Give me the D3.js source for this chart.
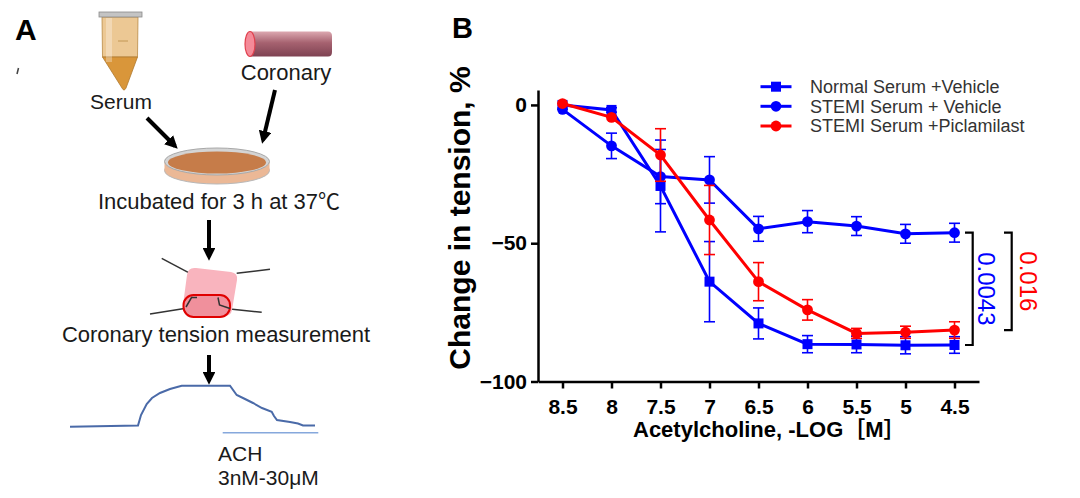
<!DOCTYPE html>
<html>
<head>
<meta charset="utf-8">
<script src="https://cdnjs.cloudflare.com/ajax/libs/d3/7.8.5/d3.min.js"></script>
<style>
  body { margin: 0; background: #fff; }
  text { font-family: "Liberation Sans", Arial, "Noto Sans CJK SC", sans-serif; }
</style>
</head>
<body>
<svg id="fig" width="1080" height="498"></svg>
<script>
// Acetylcholine doses, -log[M]
var doses = [8.5, 8, 7.5, 7, 6.5, 6, 5.5, 5, 4.5];

// change in tension (%), mean and error per series
var normalMean = [0, -1.8, -29.3, -63.9, -79.0, -86.5, -86.6, -86.9, -86.8];
var normalErr  = [0, 0.8, 16.6, 14.5, 5.6, 3.1, 3.0, 3.1, 3.0];
var stemiMean  = [-1.6, -14.8, -25.9, -27.1, -44.8, -42.2, -43.8, -46.6, -46.2];
var stemiErr   = [0, 4.6, 9.8, 8.4, 4.5, 4.0, 3.4, 3.4, 3.4];
var picMean    = [0.5, -4.5, -18.1, -41.6, -63.9, -74.1, -82.6, -82.2, -81.4];
var picErr     = [0, 0, 9.5, 12.5, 6.9, 3.7, 1.8, 2.2, 3.0];

var seriesNames = ["Normal Serum +Vehicle", "STEMI Serum + Vehicle", "STEMI Serum +Piclamilast"];
var seriesColors = ["#0000ff", "#0000ff", "#ff0000"];
var seriesShapes = ["square", "circle", "circle"];

var yTicks = [0, -50, -100];
var pValues = ["0.0043", "0.016"];

var svg = d3.select("#fig");

// ---------------- Panel A : schematic ----------------
var a = svg.append("g");
var ink = "#1a1a1a";

a.append("text").attr("x", 15).attr("y", 40).attr("font-size", 30)
  .attr("font-weight", "bold").text("A");
a.append("line").attr("x1", 17).attr("y1", 74).attr("x2", 18.5).attr("y2", 68)
  .attr("stroke", "#444").attr("stroke-width", 1.5);

// arrow marker
svg.append("defs").append("marker")
  .attr("id", "arrow").attr("viewBox", "0 0 10 10")
  .attr("refX", 7).attr("refY", 5)
  .attr("markerWidth", 3.2).attr("markerHeight", 3.2)
  .attr("orient", "auto")
  .append("path").attr("d", "M0,0 L10,5 L0,10 Z").attr("fill", "#000");

// tube
var grad = svg.select("defs").append("linearGradient").attr("id", "cyl")
  .attr("x1", 0).attr("y1", 0).attr("x2", 0).attr("y2", 1);
grad.append("stop").attr("offset", "0%").attr("stop-color", "#dca8b0");
grad.append("stop").attr("offset", "45%").attr("stop-color", "#a66270");
grad.append("stop").attr("offset", "100%").attr("stop-color", "#7e4252");

a.append("path").attr("d", "M102,17 L138,17 L137.5,57 L102.5,57 Z")
  .attr("fill", "#ecc894").attr("stroke", "#b98a45").attr("stroke-width", 0.8);
a.append("path").attr("d", "M102.5,57 L137.5,57 L126,88 Q124,92 122,88 Z")
  .attr("fill", "#d9963a").attr("stroke", "#b07a30").attr("stroke-width", 0.8);
a.append("rect").attr("x", 106).attr("y", 18).attr("width", 6).attr("height", 44)
  .attr("fill", "#fff").attr("opacity", 0.3);
a.append("line").attr("x1", 118).attr("y1", 41).attr("x2", 128).attr("y2", 41)
  .attr("stroke", "#b98a45").attr("stroke-width", 0.8);
a.append("rect").attr("x", 99).attr("y", 12).attr("width", 43).attr("height", 5)
  .attr("fill", "#c4c4c4").attr("stroke", "#8a8a8a").attr("stroke-width", 0.8);
a.append("text").attr("x", 121).attr("y", 109).attr("text-anchor", "middle")
  .attr("font-size", 21).attr("fill", ink).text("Serum");

// coronary vessel
a.append("path").attr("d", "M250,31.5 L328,31.5 Q332,31.5 332,36 L332,52 Q332,56.5 328,56.5 L250,56.5 Z")
  .attr("fill", "url(#cyl)");
a.append("ellipse").attr("cx", 250).attr("cy", 44).attr("rx", 5).attr("ry", 12.5)
  .attr("fill", "#f48a98").attr("stroke", "#e0404e").attr("stroke-width", 1.2);
a.append("text").attr("x", 286).attr("y", 80).attr("text-anchor", "middle")
  .attr("font-size", 22).attr("fill", ink).text("Coronary");

// arrows into the dish
a.append("line").attr("x1", 147).attr("y1", 118).attr("x2", 175).attr("y2", 146)
  .attr("stroke", "#000").attr("stroke-width", 4).attr("marker-end", "url(#arrow)");
a.append("line").attr("x1", 275).attr("y1", 90).attr("x2", 263).attr("y2", 140)
  .attr("stroke", "#000").attr("stroke-width", 4).attr("marker-end", "url(#arrow)");

// petri dish
a.append("ellipse").attr("cx", 217).attr("cy", 170.5).attr("rx", 52.5).attr("ry", 13.5)
  .attr("fill", "#ebb896").attr("stroke", "#b8b8b8").attr("stroke-width", 1);
a.append("rect").attr("x", 164.5).attr("y", 161.5).attr("width", 105).attr("height", 9)
  .attr("fill", "#ebb896");
a.append("ellipse").attr("cx", 217).attr("cy", 161.5).attr("rx", 52.5).attr("ry", 13.5)
  .attr("fill", "#d4d4d4").attr("stroke", "#a8a8a8").attr("stroke-width", 1);
a.append("ellipse").attr("cx", 217).attr("cy", 162.5).attr("rx", 49).attr("ry", 11)
  .attr("fill", "#c67c49");
a.append("text").attr("x", 219).attr("y", 209).attr("text-anchor", "middle")
  .attr("font-size", 22).attr("fill", ink).text("Incubated for 3 h at 37\u2103");

a.append("line").attr("x1", 209).attr("y1", 220).attr("x2", 209).attr("y2", 257)
  .attr("stroke", "#000").attr("stroke-width", 4).attr("marker-end", "url(#arrow)");

// tension chamber
var wire = [[161.7, 258.3, 190, 273.3], [236.7, 273.3, 270, 269.3],
            [150, 314, 186, 308.3], [230, 309, 261.7, 312.3]];
a.selectAll(".wire").data(wire).enter().append("line")
  .attr("x1", function (d) { return d[0]; }).attr("y1", function (d) { return d[1]; })
  .attr("x2", function (d) { return d[2]; }).attr("y2", function (d) { return d[3]; })
  .attr("stroke", "#333").attr("stroke-width", 1.5);
a.append("path")
  .attr("d", "M196,268 L231,272 Q238,273 237,280 L232,310 Q231,316 224,316 L189,313 Q182,312 183,305 L187,275 Q188,267 196,268 Z")
  .attr("fill", "#f9b4be");
a.append("rect").attr("x", 183.5).attr("y", 295).attr("width", 46.5).attr("height", 22)
  .attr("rx", 10).attr("fill", "#f0909c").attr("stroke", "#e00000").attr("stroke-width", 2);
a.append("path").attr("d", "M186,307 L191.5,297.5 L197,297.5 M218,297.5 L219.5,305 L230,308.5")
  .attr("fill", "none").attr("stroke", "#333").attr("stroke-width", 1.5);
a.append("text").attr("x", 216).attr("y", 341.5).attr("text-anchor", "middle")
  .attr("font-size", 22).attr("fill", ink).text("Coronary tension measurement");

a.append("line").attr("x1", 209).attr("y1", 355).attr("x2", 209).attr("y2", 381)
  .attr("stroke", "#000").attr("stroke-width", 4).attr("marker-end", "url(#arrow)");

// tension trace
var trace = [[70, 426.7], [138, 425.5], [141, 415], [146.7, 404], [152, 398], [160, 393],
             [170, 389], [181.7, 385.7], [230, 385.7], [236.7, 395], [245, 399],
             [253, 403], [262, 408], [271.7, 411.7], [274, 416], [277, 420],
             [290, 422], [298, 423.5], [303, 425.5], [315, 425.5]];
a.append("path").attr("d", d3.line()(trace))
  .attr("fill", "none").attr("stroke", "#4a6aa8").attr("stroke-width", 2);
a.append("line").attr("x1", 222.7).attr("y1", 432.7).attr("x2", 318.3).attr("y2", 432.7)
  .attr("stroke", "#86a8dc").attr("stroke-width", 1.5);
a.append("text").attr("x", 218).attr("y", 460.5).attr("font-size", 21).attr("fill", ink).text("ACH");
a.append("text").attr("x", 218).attr("y", 485).attr("font-size", 21).attr("fill", ink).text("3nM-30\u03bcM");

// ---------------- Panel B : dose-response chart ----------------
var b = svg.append("g");
b.append("text").attr("x", 452).attr("y", 38).attr("font-size", 29)
  .attr("font-weight", "bold").text("B");

var x = d3.scaleLinear().domain([8.75, 4.25]).range([538, 979]);
var y = d3.scaleLinear().domain([-100, 5.4]).range([381.5, 90]);

var xAxis = b.append("g").attr("transform", "translate(0," + y(-100) + ")")
  .call(d3.axisBottom(x).tickValues(doses).tickFormat(d3.format("")).tickSize(7).tickSizeOuter(0).tickPadding(11));
var yAxis = b.append("g").attr("transform", "translate(" + x(8.75) + ",0)")
  .call(d3.axisLeft(y).tickValues(yTicks).tickSize(7).tickSizeOuter(0).tickPadding(4));

[xAxis, yAxis].forEach(function (g) {
  g.select(".domain").attr("stroke", "#000").attr("stroke-width", 2.5);
  g.selectAll(".tick line").attr("stroke", "#000").attr("stroke-width", 2.5);
  g.selectAll(".tick text").attr("fill", "#000").attr("font-size", 21)
    .attr("font-weight", "bold").attr("font-family", "'Liberation Sans', Arial, sans-serif");
});

b.append("text").attr("x", 633).attr("y", 437).attr("font-size", 22)
  .attr("font-weight", "bold").text("Acetylcholine, -LOG\uff3bM\uff3d");
b.append("text").attr("transform", "translate(470,218) rotate(-90)")
  .attr("text-anchor", "middle").attr("font-size", 30).attr("font-weight", "bold")
  .text("Change in tension, %");

var means = [normalMean, stemiMean, picMean];
var errs = [normalErr, stemiErr, picErr];

var line = d3.line()
  .x(function (d) { return x(d.dose); })
  .y(function (d) { return y(d.v); });

function drawMarker(g, shape, color, cx, cy) {
  if (shape === "square") {
    g.append("rect").attr("x", cx - 5).attr("y", cy - 5).attr("width", 10).attr("height", 10)
      .attr("fill", color);
  } else {
    g.append("circle").attr("cx", cx).attr("cy", cy).attr("r", 5.4).attr("fill", color);
  }
}

means.forEach(function (m, s) {
  var color = seriesColors[s];
  var pts = doses.map(function (d, i) { return { dose: d, v: m[i], e: errs[s][i] }; });
  var g = b.append("g");

  // error bars
  pts.filter(function (p) { return p.e > 0; }).forEach(function (p) {
    var cx = x(p.dose), top = y(p.v + p.e), bot = y(p.v - p.e);
    g.append("line").attr("x1", cx).attr("x2", cx).attr("y1", top).attr("y2", bot)
      .attr("stroke", color).attr("stroke-width", 1.6);
    [top, bot].forEach(function (yy) {
      g.append("line").attr("x1", cx - 5.5).attr("x2", cx + 5.5).attr("y1", yy).attr("y2", yy)
        .attr("stroke", color).attr("stroke-width", 1.6);
    });
  });

  g.append("path").attr("d", line(pts)).attr("fill", "none")
    .attr("stroke", color).attr("stroke-width", 3);

  pts.forEach(function (p) { drawMarker(g, seriesShapes[s], color, x(p.dose), y(p.v)); });
});

// legend
var legendY = [86.7, 106.3, 126];
seriesNames.forEach(function (name, s) {
  var ly = legendY[s];
  b.append("line").attr("x1", 760.5).attr("x2", 791.5).attr("y1", ly).attr("y2", ly)
    .attr("stroke", seriesColors[s]).attr("stroke-width", 3);
  drawMarker(b, seriesShapes[s], seriesColors[s], 776, ly);
  b.append("text").attr("x", 810).attr("y", ly).attr("dy", "0.36em")
    .attr("font-size", 18).attr("fill", "#333").text(name);
});

// significance brackets at the last dose
var last = doses.length - 1;
var brackets = [
  { top: stemiMean[last], bottom: normalMean[last], x0: 965, x1: 972.7, label: pValues[0], color: "#0000ff", tx: 978 },
  { top: stemiMean[last], bottom: picMean[last], x0: 1004, x1: 1011.7, label: pValues[1], color: "#ff0000", tx: 1019.5 }
];
brackets.forEach(function (br) {
  var y0 = y(br.top), y1 = y(br.bottom);
  b.append("path")
    .attr("d", "M" + br.x0 + "," + y0 + " L" + br.x1 + "," + y0 + " L" + br.x1 + "," + y1 + " L" + br.x0 + "," + y1)
    .attr("fill", "none").attr("stroke", "#000").attr("stroke-width", 2.2);
  b.append("text").attr("transform", "translate(" + br.tx + "," + ((y0 + y1) / 2) + ") rotate(90)")
    .attr("text-anchor", "middle").attr("font-size", 24).attr("fill", br.color).text(br.label);
});
</script>
</body>
</html>
